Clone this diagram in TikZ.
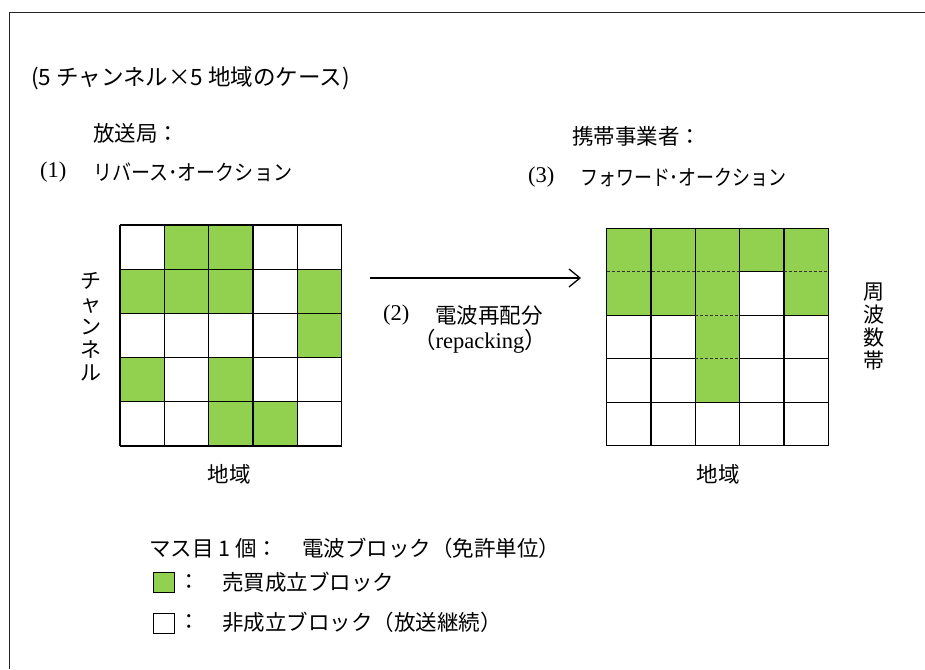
\documentclass[tikz,border=0pt]{standalone}
\usepackage{fontspec}
\setmainfont{Liberation Serif}
\newfontfamily\jp{Noto Sans CJK JP}
\usetikzlibrary{arrows.meta}
\definecolor{grn}{RGB}{146,208,80}
\tikzset{
  txt/.style={inner sep=0pt, anchor=west, font=\fontsize{21.5}{24}\selectfont},
  vtxt/.style={inner sep=0pt, align=center, font=\jp\fontsize{21}{23}\selectfont},
  gridline/.style={line width=1.2pt, black},
  dashline/.style={line width=0.8pt, black!80, dash pattern=on 3pt off 2pt},
  legbox/.style={draw, line width=1.2pt, minimum width=21pt, minimum height=20pt, inner sep=0pt}
}
\begin{document}
\begin{tikzpicture}[x=1pt,y=-1pt]
\useasboundingbox (0,0) rectangle (925,669);
% frame
\draw[line width=0.9pt, black!85] (9,669) -- (9,12.3) -- (925,12.3);
% title
\node[txt, font=\fontsize{22.5}{24}\selectfont] (title) at (31,78) {\jp (5 チャンネル×5 地域のケース)};
% left headings
\node[txt] (bc) at (93,133) {\jp 放送局：};
\node[txt, font=\fontsize{22.5}{24}\selectfont] (n1) at (40,172) {(1)};
\node[txt] (ra) at (93,172) {\scalebox{0.885}[1]{\jp リバース･オークション}};
% right headings
\node[txt] (mc) at (572,136) {\jp 携帯事業者：};
\node[txt, font=\fontsize{22.5}{24}\selectfont] (n3) at (528,177) {(3)};
\node[txt] (fa) at (580,177) {\scalebox{0.835}[1]{\jp フォワード･オークション}};
% left grid
\def\lx{120}\def\ly{225}\def\cw{44.33}\def\ch{44.2}
\foreach \r/\c in {0/1,0/2,1/0,1/1,1/2,1/4,2/4,3/0,3/2,4/2,4/3}
  \fill[grn] (\lx+\c*\cw, \ly+\r*\ch) rectangle ++(\cw,\ch);
\foreach \i in {0,...,5} {
  \draw[gridline] (\lx+\i*\cw,\ly) -- (\lx+\i*\cw,\ly+5*\ch);
  \draw[gridline] (\lx,\ly+\i*\ch) -- (\lx+5*\cw,\ly+\i*\ch);
}
% right grid
\def\rx{606.7}\def\ry{228.3}\def\rw{44.33}\def\rh{43.5}
\foreach \r/\c in {0/0,0/1,0/2,0/3,0/4,1/0,1/1,1/2,1/4,2/2,3/2}
  \fill[grn] (\rx+\c*\rw, \ry+\r*\rh) rectangle ++(\rw,\rh);
\foreach \i in {0,...,5}
  \draw[gridline] (\rx+\i*\rw,\ry) -- (\rx+\i*\rw,\ry+5*\rh);
\foreach \i in {0,4,5}
  \draw[gridline] (\rx,\ry+\i*\rh) -- (\rx+5*\rw,\ry+\i*\rh);
% row boundary 1
\draw[dashline] (\rx,\ry+\rh) -- (\rx+3*\rw,\ry+\rh);
\draw[gridline] (\rx+3*\rw,\ry+\rh) -- (\rx+4*\rw,\ry+\rh);
\draw[dashline] (\rx+4*\rw,\ry+\rh) -- (\rx+5*\rw,\ry+\rh);
% row boundaries 2 and 3
\foreach \i in {2,3} {
  \draw[gridline] (\rx,\ry+\i*\rh) -- (\rx+2*\rw,\ry+\i*\rh);
  \draw[dashline] (\rx+2*\rw,\ry+\i*\rh) -- (\rx+3*\rw,\ry+\i*\rh);
  \draw[gridline] (\rx+3*\rw,\ry+\i*\rh) -- (\rx+5*\rw,\ry+\i*\rh);
}
% axis labels
\node[vtxt] (ch) at (91,327) {チ\\ャ\\ン\\ネ\\ル};
\node[vtxt] (fb) at (874,327) {周\\波\\数\\帯};
\node[txt, anchor=center] (rg1) at (229,474) {\jp 地域};
\node[txt, anchor=center] (rg2) at (718,474) {\jp 地域};
% arrow
\coordinate (as) at (370,278);
\coordinate (ae) at (581,278);
\draw[line width=1.3pt, -{Straight Barb[length=11pt,width=18pt,line width=1.3pt]}] (as) -- (ae);
\node[txt, font=\fontsize{22.5}{24}\selectfont] (n2) at (383,315) {(2)};
\node[txt] (rp) at (435,315) {\jp 電波再配分};
\node[txt, anchor=center, font=\fontsize{22.5}{24}\selectfont] (rk) at (480,341) {{\jp （}repacking{\jp ）}};
% legend
\node[txt] (lg0) at (149,548) {\jp マス目 1 個：};
\node[txt] (lg0b) at (302,548) {\jp 電波ブロック（免許単位）};
\node[legbox, fill=grn] (lgg) at (164,582.5) {};
\node[txt] (lg1) at (178,582) {\jp ：};
\node[txt] (lg1b) at (222,582) {\jp 売買成立ブロック};
\node[legbox, fill=white] (lgw) at (164,623.5) {};
\node[txt] (lg2) at (178,622) {\jp ：};
\node[txt] (lg2b) at (222,622) {\jp 非成立ブロック（放送継続）};
\end{tikzpicture}
\end{document}
